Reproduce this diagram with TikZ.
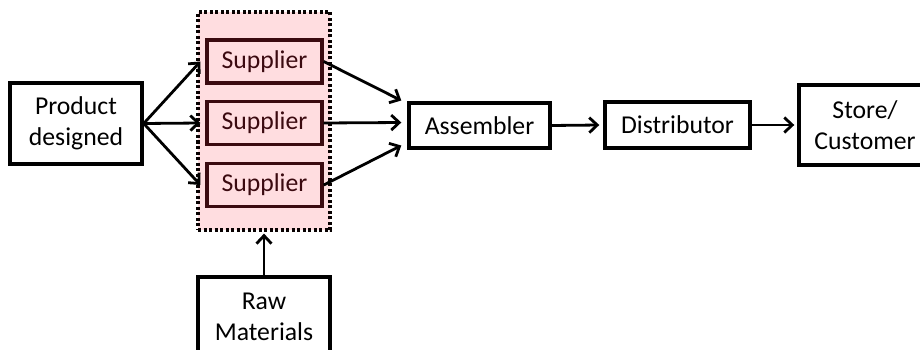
\documentclass[tikz,border=0pt]{standalone}
\usepackage{fontspec}
\setmainfont{Carlito}
\usetikzlibrary{arrows.meta,calc}
\definecolor{supfill}{HTML}{FFDDE0}
\definecolor{supline}{HTML}{3B0A10}
\tikzset{
  blockbox/.style={draw=black,line width=3.4pt,fill=white,align=center,inner sep=0pt,
    font=\fontsize{25.7}{31}\selectfont},
  supbox/.style={blockbox,draw=supline,fill=supfill,text=supline,
    minimum width=115pt,minimum height=43pt},
  arr/.style={line width=2.8pt,-{Straight Barb[length=8pt,width=15pt,line width=2.8pt]}}
}
\begin{document}
\begin{tikzpicture}[x=1pt,y=-1pt]
    \useasboundingbox (0,0) rectangle (920,350);
    \clip (0,0) rectangle (920,350);
    % supplier group
    \node[draw=black!85!supline,line width=3.2pt,dash pattern=on 3pt off 2.5pt,fill=supfill,
        minimum width=132pt,minimum height=218pt,inner sep=0pt] (grp) at (264,121) {};
    \node[supbox] (sup1) at (264.5,61.5) {Supplier};
    \node[supbox] (sup2) at (264.5,123) {Supplier};
    \node[supbox] (sup3) at (264.5,185) {Supplier};
    % other blocks
    \node[blockbox,minimum width=132pt,minimum height=81pt] (prod) at (76,123.5) {Product\\designed};
    \node[blockbox,minimum width=132pt,minimum height=80pt] (raw) at (264,317) {Raw\\Materials};
    \node[blockbox,minimum width=141pt,minimum height=45pt] (asm) at (479.5,125.5) {Assembler};
    \node[blockbox,minimum width=145pt,minimum height=46pt] (dist) at (677.5,125) {Distributor};
    \node[blockbox,minimum width=132pt,minimum height=80pt] (store) at (865,125) {Store/\\Customer};
    % arrows
    \draw[arr] (prod.east) -- ($(sup1.west -| grp.west)+(4,0)$);
    \draw[arr] (prod.east) -- ($(sup2.west -| grp.west)+(4,0)$);
    \draw[arr] (prod.east) -- ($(sup3.west -| grp.west)+(4,0)$);
    \draw[arr] (sup1.east) -- ($(asm.west)+(-6,-25)$);
    \draw[arr] (sup2.east) -- ($(asm.west)+(-6,-3)$);
    \draw[arr] (sup3.east) -- ($(asm.west)+(-6,20)$);
    \draw[arr] (raw.north) -- ($(grp.south)+(0,2)$);
    \draw[arr] (asm.east) -- ($(dist.west)+(-4,0)$);
    \draw[arr] (dist.east) -- ($(store.west)+(-3,0)$);
\end{tikzpicture}
\end{document}
